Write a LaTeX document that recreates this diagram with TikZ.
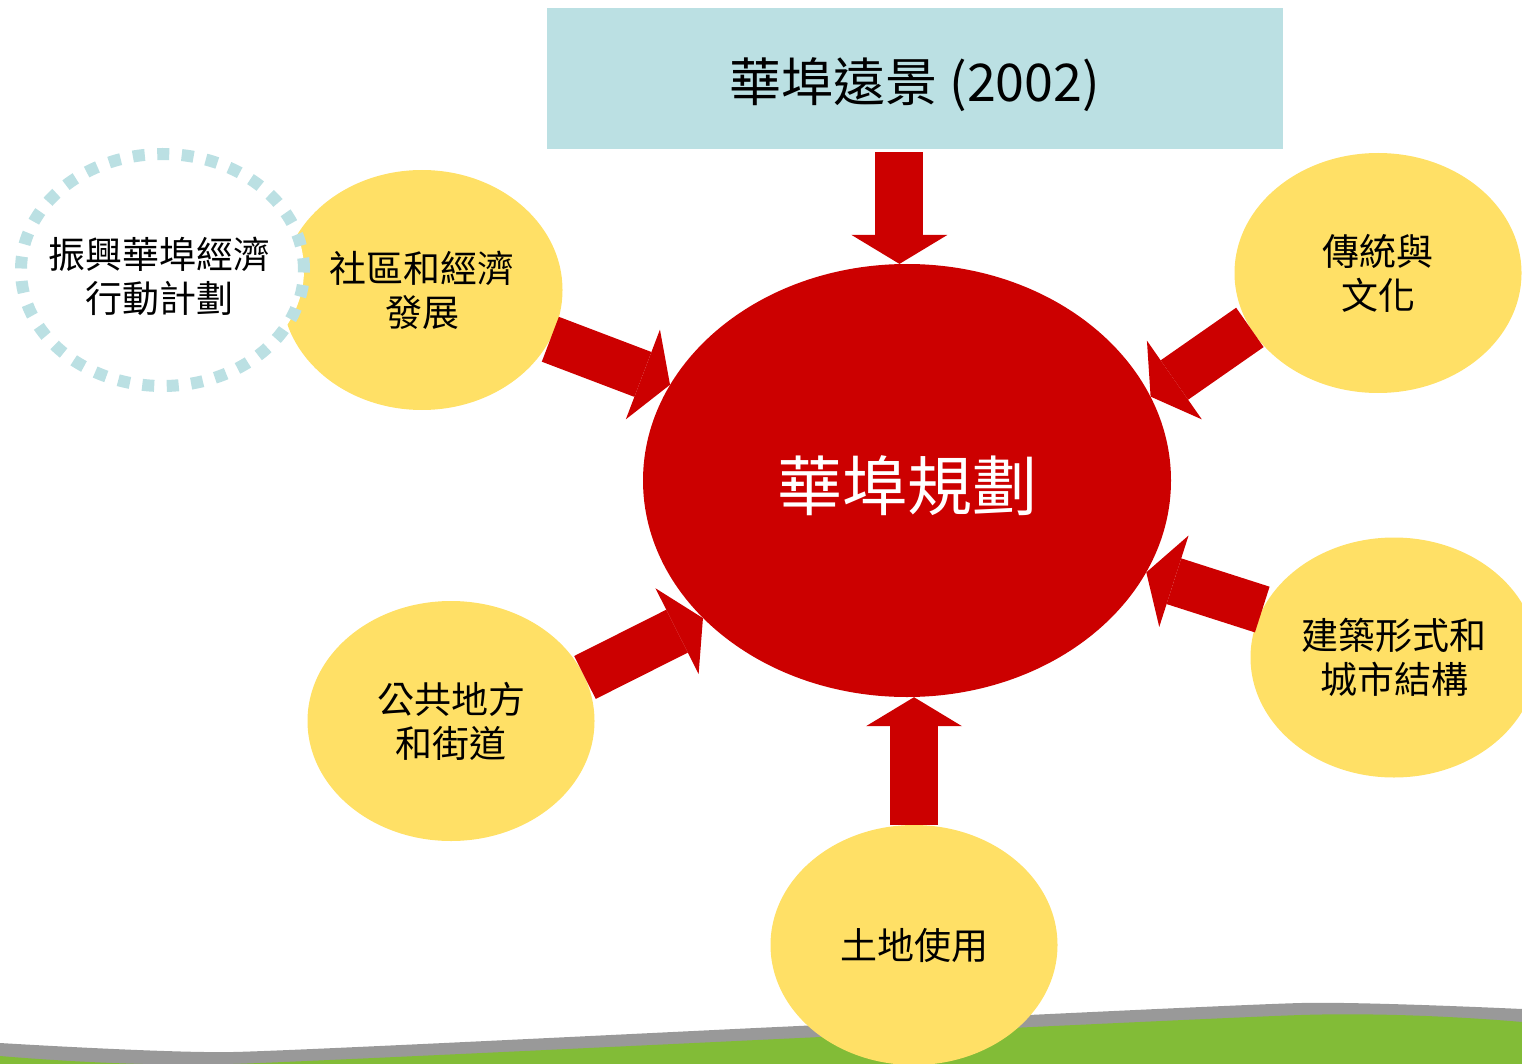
\documentclass[tikz,border=0pt]{standalone}
\usepackage{fontspec}
\setmainfont{Noto Sans CJK TC}
\usetikzlibrary{shapes.geometric,arrows.meta}
\definecolor{planred}{HTML}{CC0000}
\definecolor{ideayellow}{HTML}{FFE066}
\definecolor{visionblue}{HTML}{BBE0E3}
\definecolor{hillgrey}{HTML}{999999}
\definecolor{hillgreen}{HTML}{82BC37}

\begin{document}
\begin{tikzpicture}[x=1pt,y=-1pt,
    bigarrow/.style={draw=planred,line width=48pt,
      -{Triangle[length=29pt,width=96pt,line width=0pt]}}]

      \useasboundingbox (0,0) rectangle (1522,1064);

      \fill[hillgrey] plot[smooth,tension=.3] coordinates {(0,1043) (233,1052) (777,1027) (1301,1003) (1522,1009)}
        -- (1522,1064) -- (0,1064) -- cycle;
      \fill[hillgreen] plot[smooth,tension=.3] coordinates {(0,1056) (233,1064) (1301,1015) (1522,1022)}
        -- (1522,1064) -- (0,1064) -- cycle;

      \node[rectangle,fill=visionblue,minimum width=736pt,minimum height=141pt,
        font=\fontsize{52}{60}\selectfont] (vision) at (915,78.5) {\raisebox{-6pt}[\height][\depth]{華埠遠景 (2002)}};

      \node[ellipse,fill=planred,minimum width=528pt,minimum height=433pt,text=white,
        font=\fontsize{65}{70}\selectfont] (plan) at (907,480.5) {\raisebox{-5pt}[\height][\depth]{華埠規劃}};

      \begin{scope}[every node/.style={ellipse,fill=ideayellow,minimum width=287pt,minimum height=240pt,
          inner sep=0pt,align=center,font=\fontsize{37}{44}\selectfont}]
        \node[minimum width=281pt] (social) at (422,290) {社區和經濟\\發展};
        \node (culture) at (1378,273)   {傳統與\\文化};
        \node (urban)   at (1394,657.5) {建築形式和\\城市結構};
        \node (public)  at (451,721)    {公共地方\\和街道};
        \node (landuse) at (914,945)    {土地使用};
      \end{scope}

      \node[ellipse,draw=visionblue,fill=white,line width=12pt,dash pattern=on 12pt off 12.5pt,
        minimum width=283pt,minimum height=232pt,inner sep=0pt] (revital) at (162.5,270) {};
      \node[align=center,font=\fontsize{37}{44}\selectfont] (revitaltext) at (159,276) {振興華埠經濟\\行動計劃};

      \draw[bigarrow,shorten <=3pt] (vision.south -| plan.92) -- (plan.92);
      \draw[bigarrow] (social.-21)   -- (plan.158);
      \draw[bigarrow] (culture.-157) -- (plan.19);
      \draw[bigarrow] (urban.160)    -- (plan.-21);
      \draw[bigarrow] (public.18)    -- (plan.-146);
      \draw[bigarrow] (landuse.north) -- (landuse.north |- plan.south);

    \end{tikzpicture}
\end{document}
